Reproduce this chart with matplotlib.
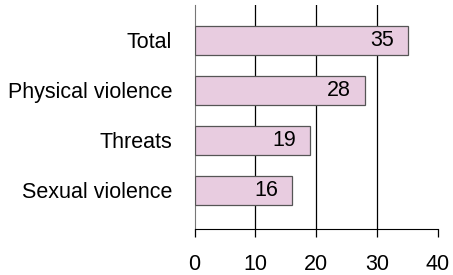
import numpy as np
import matplotlib
matplotlib.use("Agg")
import matplotlib.pyplot as plt

plt.rcParams['font.family'] = ['Liberation Sans', 'DejaVu Sans']

# data
categories = ['Total', 'Physical violence', 'Threats', 'Sexual violence']
values = [35, 28, 19, 16]
xticks = [0, 10, 20, 30, 40]

fig = plt.figure(figsize=(4.53, 2.75), dpi=100)
ax = fig.add_axes([0.4294, 0.1673, 0.5375, 0.8145])

ypos = np.arange(len(categories))[::-1]
bars = ax.barh(ypos, values, height=0.58, color='#E8CCE0', edgecolor='#555555',
               linewidth=0.9, zorder=3)

# vertical gridlines (not at the ends)
for t in xticks[1:-1]:
    ax.axvline(t, color='black', linewidth=0.9, zorder=1)

for b, v in zip(bars, values):
    ax.annotate(str(v), (b.get_width(), b.get_y() + b.get_height() / 2),
                xytext=(-10, 0), textcoords='offset points',
                ha='right', va='center', fontsize=15.5, zorder=4)

ax.set_xlim(0, 40)
ax.set_ylim(-0.77, 3.7)
ax.set_xticks(xticks)
ax.set_yticks(ypos)
ax.set_yticklabels(categories)

ax.spines['top'].set_visible(False)
ax.spines['right'].set_visible(False)
ax.spines['left'].set_color('#777777')
ax.spines['bottom'].set_color('black')
ax.tick_params(axis='x', direction='out', length=5.5, width=0.9, pad=12.5, labelsize=15.5)
ax.tick_params(axis='y', length=0, pad=16, labelsize=15.5)

fig.savefig('out.png', dpi=100)
